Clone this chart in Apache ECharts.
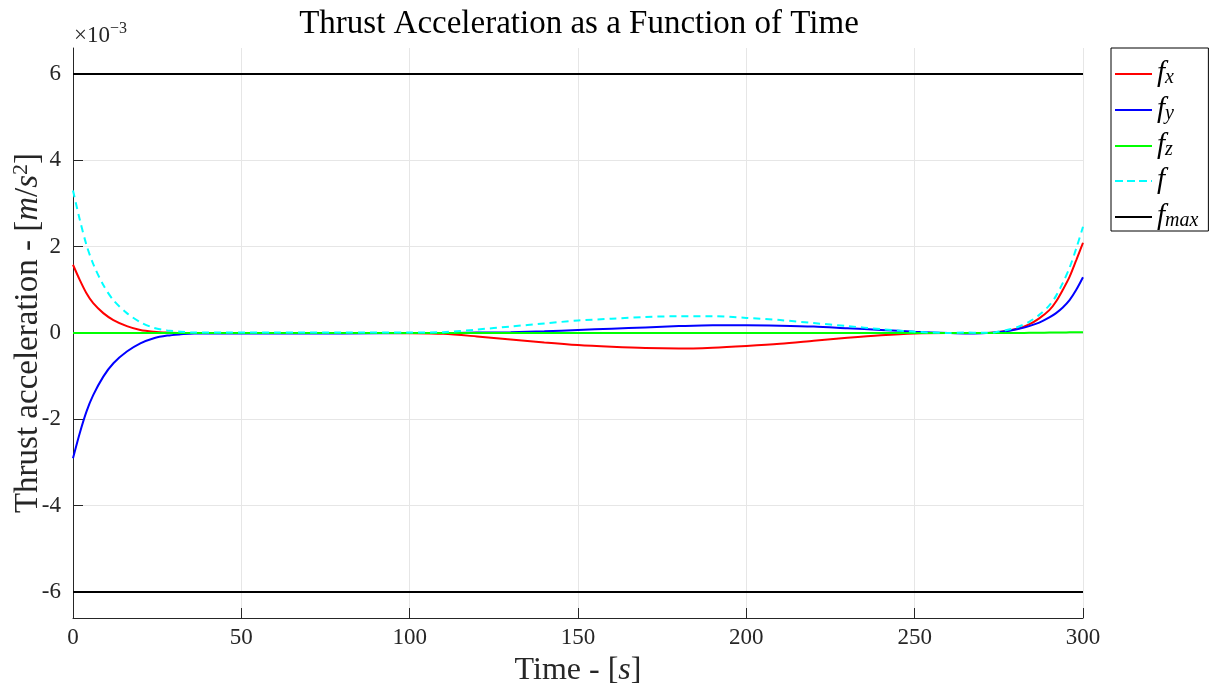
<!DOCTYPE html>
<html>
<head>
<meta charset="utf-8">
<script src="https://cdn.jsdelivr.net/npm/echarts@6/dist/echarts.min.js"></script>
<style>
  html, body { margin: 0; padding: 0; background: #fff; }
  #chart { width: 1211px; height: 687px; }
</style>
</head>
<body>
<div id="chart"></div>
<script>
// time samples [s] and thrust acceleration components [1e-3 m/s^2]
var time = [0, 2, 4, 6, 9, 12, 16, 20, 24, 28, 32, 36, 45, 60, 80, 100, 110, 120, 130, 140, 150, 160, 170, 180, 190, 200,
    210, 220, 230, 240, 250, 260, 265, 270, 274, 278, 281, 284, 287, 290, 292, 294, 296, 298, 300];
var fx = [1.58, 1.23, 0.92, 0.69, 0.46, 0.30, 0.16, 0.07, 0.03, 0.01, 0.0, 0.0, 0.0, 0.0, 0.0, -0.005, -0.02, -0.08, -0.15, -0.22, -0.28, -0.32, -0.35, -0.36, -0.34, -0.30,
    -0.25, -0.18, -0.11, -0.05, -0.01, 0.0, 0.0, 0.0, 0.02, 0.06, 0.11, 0.20, 0.34, 0.53, 0.73, 1.0, 1.30, 1.69, 2.09];
var fy = [-2.9, -2.32, -1.82, -1.44, -1.01, -0.70, -0.43, -0.24, -0.12, -0.06, -0.03, -0.01, -0.01, -0.01, -0.01, 0.0, 0.0, 0.01, 0.02, 0.04, 0.07, 0.10, 0.13, 0.16, 0.18, 0.18,
    0.17, 0.15, 0.11, 0.07, 0.03, 0.0, -0.01, -0.005, 0.01, 0.05, 0.10, 0.16, 0.24, 0.36, 0.46, 0.59, 0.76, 1.0, 1.29];
var fz = [0, 0, 0, 0, 0, 0, 0, 0, 0, 0, 0, 0, 0, 0, 0, 0, 0, 0, 0, 0, 0, 0, 0, 0, 0, 0,
    0, 0, 0, 0, 0, 0, 0, 0, 0, 0, 0, 0.005, 0.005, 0.01, 0.01, 0.01, 0.015, 0.015, 0.02];
var fnorm = [3.30, 2.63, 2.04, 1.60, 1.11, 0.76, 0.46, 0.25, 0.12, 0.06, 0.03, 0.01, 0.01, 0.01, 0.01, 0.01, 0.02, 0.08, 0.15, 0.22, 0.29, 0.33, 0.37, 0.39, 0.39, 0.35,
    0.30, 0.23, 0.16, 0.09, 0.03, 0.0, 0.01, 0.005, 0.02, 0.08, 0.15, 0.26, 0.42, 0.64, 0.86, 1.16, 1.51, 1.96, 2.46];
var fmax = 6;
var timeRange = [0, 300];
var yTicks = [-6, -4, -2, 0, 2, 4, 6];

var serif = '"Liberation Serif", "DejaVu Serif", serif';

function pairs(xs, ys) {
    return xs.map(function (x, i) { return [x, ys[i]]; });
}

var legendLabels = {
    'fx': '{f|f}{s|x}',
    'fy': '{f|f}{s|y}',
    'fz': '{f|f}{s|z}',
    'f': '{f|f}',
    'fmax': '{f|f}{s|max}'
};
// dashed legend sample for the magnitude
var dashIcon = 'path://M0,0h8v2h-8z M12,0h8v2h-8z M24,0h8v2h-8z M36,0h1v2h-1z';

var myChart = echarts.init(document.getElementById('chart'));

function lineSeries(name, data, color, dashed) {
    return {
        name: name,
        type: 'line',
        data: data,
        showSymbol: false,
        symbol: 'none',
        smooth: 0.3,
        animation: false,
        lineStyle: { color: color, width: 2, type: dashed ? [7, 5] : 'solid' },
        itemStyle: { color: color }
    };
}

var option = {
    backgroundColor: '#fff',
    animation: false,
    title: {
        text: 'Thrust Acceleration as a Function of Time',
        left: 574,
        textAlign: 'center',
        top: 3,
        textStyle: { fontFamily: serif, fontSize: 33, fontWeight: 'normal', color: '#000' }
    },
    grid: { left: 73, right: 128, top: 48, bottom: 69, outerBoundsMode: 'none', containLabel: false },
    legend: {
        orient: 'vertical',
        left: 1111,
        top: 48,
        padding: [10, 10, 0, 4],
        itemGap: 6,
        itemWidth: 37,
        itemHeight: 2,
        itemTextGap: 4,
        icon: 'rect',
        symbolKeepAspect: false,
        borderColor: '#000',
        borderWidth: 1,
        data: [
            { name: 'fx' },
            { name: 'fy' },
            { name: 'fz' },
            { name: 'f', icon: dashIcon },
            { name: 'fmax' }
        ],
        formatter: function (name) { return legendLabels[name]; },
        textStyle: {
            color: '#000',
            rich: {
                f: { fontFamily: serif, fontStyle: 'italic', fontSize: 29, lineHeight: 28, verticalAlign: 'bottom' },
                s: { fontFamily: serif, fontStyle: 'italic', fontSize: 20, lineHeight: 18, verticalAlign: 'bottom', padding: [10, 0, 0, 0] }
            }
        }
    },
    xAxis: {
        type: 'value',
        min: timeRange[0],
        max: timeRange[1],
        interval: 50,
        name: 'Time - [{i|s}]',
        nameLocation: 'middle',
        nameGap: 37,
        nameMoveOverlap: false,
        nameTextStyle: {
            fontFamily: serif, fontSize: 32, color: '#262626',
            rich: { i: { fontFamily: serif, fontStyle: 'italic', fontSize: 32, color: '#262626' } }
        },
        axisLine: { show: true, onZero: false, lineStyle: { color: '#262626', width: 1 } },
        axisTick: { show: true, inside: true, length: 10, lineStyle: { color: '#262626' } },
        axisLabel: { fontFamily: serif, fontSize: 23, color: '#262626', margin: 8 },
        splitLine: { show: true, lineStyle: { color: '#e6e6e6', width: 1 } }
    },
    yAxis: {
        type: 'value',
        min: -6.6,
        max: 6.6,
        name: 'Thrust acceleration - [{i|m}/{i|s}{sup|2}]',
        nameLocation: 'middle',
        nameGap: 27,
        nameRotate: 90,
        nameMoveOverlap: false,
        nameTextStyle: {
            fontFamily: serif, fontSize: 33, color: '#262626',
            rich: {
                i: { fontFamily: serif, fontStyle: 'italic', fontSize: 33, color: '#262626' },
                sup: { fontFamily: serif, fontSize: 22, color: '#262626', verticalAlign: 'top', padding: [0, 0, 14, 0] }
            }
        },
        axisLine: { show: true, onZero: false, lineStyle: { color: '#262626', width: 1 } },
        axisTick: { show: true, inside: true, length: 10, customValues: yTicks, lineStyle: { color: '#262626' } },
        axisLabel: { fontFamily: serif, fontSize: 23, color: '#262626', margin: 12, customValues: yTicks },
        splitLine: { show: true, lineStyle: { color: '#e6e6e6', width: 1 } }
    },
    graphic: [{
        type: 'text',
        left: 74,
        top: 21,
        style: {
            text: '×10{sup|−3}',
            fontFamily: serif,
            fontSize: 23,
            fill: '#262626',
            rich: { sup: { fontFamily: serif, fontSize: 16, fill: '#262626', padding: [0, 0, 13, 0] } }
        }
    }],
    series: [
        lineSeries('fx', pairs(time, fx), '#ff0000', false),
        lineSeries('fy', pairs(time, fy), '#0000ff', false),
        lineSeries('fz', pairs(time, fz), '#00ff00', false),
        lineSeries('f', pairs(time, fnorm), '#00ffff', true),
        lineSeries('fmax', pairs(timeRange, [fmax, fmax]), '#000000', false),
        lineSeries('fmax', pairs(timeRange, [-fmax, -fmax]), '#000000', false)
    ]
};

myChart.setOption(option);
</script>
</body>
</html>
